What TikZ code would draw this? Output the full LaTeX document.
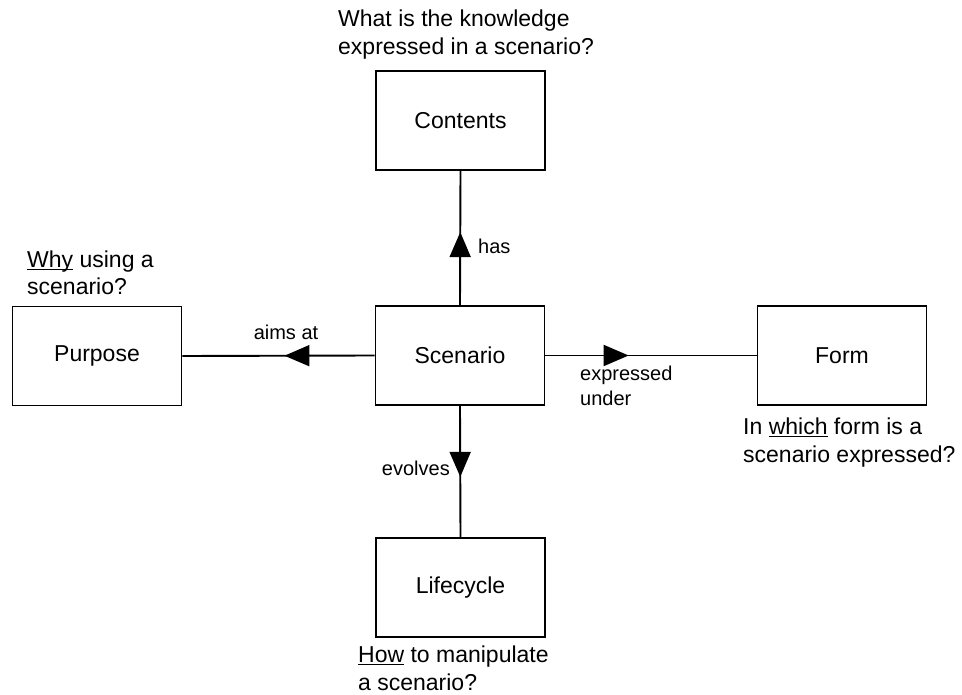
\documentclass[tikz,border=0pt]{standalone}
\usepackage{fontspec}
\setmainfont{Liberation Sans}
\usetikzlibrary{arrows.meta,decorations.markings}
\newcommand{\ulword}[1]{\setbox0\hbox{#1}\rlap{\rule[-3pt]{\wd0}{1.2pt}}#1}
\begin{document}
\begin{tikzpicture}[x=1pt,y=-1pt,
  box/.style={draw, line width=1.9pt, minimum width=169pt, minimum height=99pt, inner sep=0pt, font=\fontsize{23}{28}\selectfont},
  note/.style={align=left, inner sep=0pt, font=\fontsize{23}{28}\selectfont, anchor=base west},
  elabel/.style={inner sep=0pt, font=\fontsize{20}{25}\selectfont},
  conn/.style={line width=1.9pt},
  tipat/.style={postaction={decorate}, decoration={markings, mark=at position #1 with {\arrow{Triangle[length=25pt,width=21pt]}}}}
]
\useasboundingbox (0,0) rectangle (962,695);

\node[box] (contents) at (460.5,120.5) {Contents};
\node[box] (scenario) at (460,355.5) {Scenario};
\node[box] (purpose) at (97,356) {Purpose};
\node[box] (form) at (842,355.5) {Form};
\node[box] (lifecycle) at (460.5,587.5) {Lifecycle};

\draw[conn, tipat=0.544] (scenario.north) -- (contents.south);
\draw[conn, tipat=0.469] (scenario.west) -- (purpose.east);
\draw[conn, tipat=0.394] (scenario.east) -- (form.west);
\draw[conn, tipat=0.541] (scenario.south) -- (lifecycle.north);

\node[elabel, anchor=base west] (lhas) at (478,254) {has};
\node[elabel, anchor=base] (laims) at (286,340) {aims at};
\node[elabel, anchor=base west, align=left] (lexpr) at (580,405) {expressed\\under};
\node[elabel, anchor=base east] (levol) at (450,475) {evolves};

\node[note] (ncontents) at (338,55) {What is the knowledge\\expressed in a scenario?};
\node[note] (npurpose) at (27,295) {\ulword{Why} using a\\scenario?};
\node[note] (nform) at (743,462) {In \ulword{which} form is a\\scenario expressed?};
\node[note] (nlife) at (358,690) {\ulword{How} to manipulate\\a scenario?};
\end{tikzpicture}
\end{document}
